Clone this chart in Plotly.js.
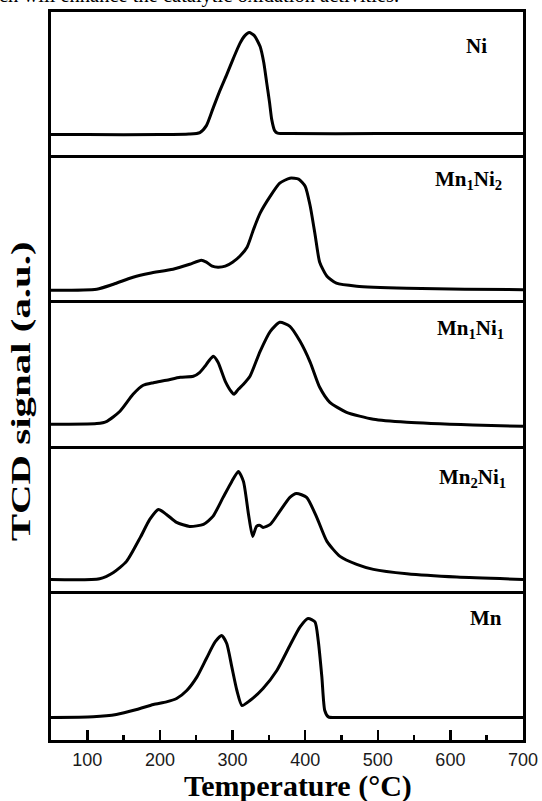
<!DOCTYPE html>
<html>
<head>
<meta charset="utf-8">
<script src="https://cdn.plot.ly/plotly-3.0.1.min.js"></script>
<style>html,body{margin:0;padding:0;background:#fff;}#chart{width:542px;height:801px;}</style>
</head>
<body>
<div id="chart"></div>
<script>
// ---- data (TCD signal in a.u., baseline = 0) ----
const seriesNames = ["Ni", "Mn<sub>1</sub>Ni<sub>2</sub>", "Mn<sub>1</sub>Ni<sub>1</sub>", "Mn<sub>2</sub>Ni<sub>1</sub>", "Mn"];

const niT = [50, 100, 200, 240, 255, 264, 273, 282, 292, 301, 310, 317, 323, 330, 338, 343, 347, 351, 354, 358, 362, 380, 500, 600, 700];
const niS = [0, 0, 0, 0.5, 2, 9, 26, 43, 60, 76, 91, 99, 102, 99, 88, 72, 52, 32, 15, 4, 1.5, 1, 1, 1, 1];

const mn1ni2T = [50, 113, 136, 163, 186, 218, 241, 257, 264, 272, 280, 290, 300, 310, 320, 329, 338, 352, 365, 379, 391, 400, 407, 414, 420, 430, 443, 471, 540, 620, 700];
const mn1ni2S = [0, 1, 6, 13, 17, 21, 26, 30, 28, 24, 23, 24, 28, 34, 43, 61, 77, 94, 107, 112, 111, 104, 84, 54, 28, 14, 7, 4, 2, 1, 0.5];

const mn1ni1T = [50, 113, 127, 145, 163, 177, 191, 209, 228, 246, 255, 262, 267, 273.5, 280, 290, 299, 302, 308, 315, 324, 338, 352, 365, 379, 393, 407, 420, 434, 457, 494, 540, 631, 700];
const mn1ni1S = [0, 0.7, 3, 13, 30, 39, 41.6, 44, 47, 48, 52, 58, 63, 68, 62, 43, 32, 30, 35, 40, 48, 73, 93, 102, 98, 83, 62, 37, 22, 12, 5, 2, -0.7, -2];

const mn2ni1T = [50, 117, 136, 154, 173, 186, 198, 209, 223, 241, 260, 273, 287, 299, 308, 315, 322, 327.7, 333, 338, 342, 352, 365, 379, 388, 402, 416, 430, 448, 471, 494, 540, 609, 700];
const mn2ni1S = [0, 0.7, 7, 18, 42, 60, 70, 65, 57, 53, 55, 63, 82, 98, 108, 98, 65, 43, 53, 54, 52, 55, 68, 82, 86, 82, 62, 38, 23, 15, 10, 5.6, 2.3, 0];

const mnT = [50, 108, 140, 168, 191, 209, 223, 237, 251, 264, 276, 285, 292, 299, 306, 313, 324, 342, 361, 379, 393, 404, 413.5, 418, 423, 427, 432, 450, 700];
const mnS = [0, 0.7, 3, 8, 13, 15.6, 19, 27, 40.6, 59, 75.6, 82, 74, 50.6, 27, 12, 17, 29, 47, 72, 90.6, 99, 95.6, 77, 40.6, 7, 0.6, 0, 0];

const xTickVals = [100, 200, 300, 400, 500, 600, 700];
const xTitle = "Temperature (°C)";
const yTitle = "TCD signal (a.u.)";
const topText = "ch will enhance the catalytic oxidation activities.";

// ---- layout geometry ----
const W = 542, H = 801;
const M = {l: 51, r: 19, t: 12, b: 61};
const plotW = W - M.l - M.r, plotH = H - M.t - M.b;
const pxX = px => (px - M.l) / plotW;
const pxY = py => (H - M.b - py) / plotH;

const xs = [niT, mn1ni2T, mn1ni1T, mn2ni1T, mnT];
const ys = [niS, mn1ni2S, mn1ni1S, mn2ni1S, mnS];
// baseline offset (px above panel bottom) per panel, top to bottom
const baseOff = [23, 13, 24.5, 15, 22.5];
const panelPx = plotH / 5;

const traces = [];
const layout = {
  width: W, height: H,
  margin: M,
  paper_bgcolor: "#ffffff",
  plot_bgcolor: "#ffffff",
  showlegend: false,
  font: {family: "Liberation Serif", color: "#000"},
  annotations: [],
};

for (let i = 0; i < 5; i++) {
  const k = 5 - i; // top panel -> 5, bottom panel -> 1
  const xa = k === 1 ? "x" : "x" + k;
  const ya = k === 1 ? "y" : "y" + k;
  traces.push({
    x: xs[i], y: ys[i], xaxis: xa, yaxis: ya,
    type: "scatter", mode: "lines",
    line: {color: "#000", width: 3, shape: "spline", smoothing: 0.6},
    hoverinfo: "skip"
  });
  const d0 = (k - 1) / 5, d1 = k / 5;
  const xaxKey = k === 1 ? "xaxis" : "xaxis" + k;
  const yaxKey = k === 1 ? "yaxis" : "yaxis" + k;
  const isBottom = k === 1;
  layout[xaxKey] = {
    anchor: ya, domain: [0, 1], range: [50, 700],
    side: isBottom ? "bottom" : "top",
    showline: true, mirror: isBottom, linecolor: "#000", linewidth: 3,
    showgrid: false, zeroline: false,
    showticklabels: isBottom,
    ticks: isBottom ? "inside" : "",
    tickvals: isBottom ? xTickVals : undefined,
    ticklen: 10, tickwidth: 2.5, tickcolor: "#000",
    tickfont: {family: "Liberation Sans", size: 18, color: "#1a1a1a"},
    ticklabelstandoff: 1,
    minor: isBottom ? {ticks: "inside", ticklen: 5, tickwidth: 2.5, tickcolor: "#000", dtick: 50, tick0: 50, showgrid: false} : undefined,
  };
  if (!isBottom) layout[xaxKey].matches = "x";
  layout[yaxKey] = {
    anchor: xa, domain: [d0, d1],
    range: [-baseOff[i], panelPx - baseOff[i]],
    showline: true, mirror: true, linecolor: "#000", linewidth: 3,
    showgrid: false, zeroline: false, showticklabels: false, ticks: "",
    fixedrange: true
  };
}

// panel labels (right-aligned)
const labelRight = [489, 504, 506, 508, 504];
const labelMid = [46, 180, 329, 478, 618];
for (let i = 0; i < 5; i++) {
  layout.annotations.push({
    text: "<b>" + seriesNames[i] + "</b>",
    xref: "paper", yref: "paper",
    x: pxX(labelRight[i]), y: pxY(labelMid[i]),
    xanchor: "right", yanchor: "middle", showarrow: false,
    font: {family: "Liberation Serif", size: 21, color: "#000"}
  });
}
// x axis title
layout.annotations.push({
  text: xTitle,
  xref: "paper", yref: "paper",
  x: pxX(298), y: pxY(786), xanchor: "center", yanchor: "middle",
  showarrow: false,
  font: {family: "Liberation Serif", size: 30, color: "#000", weight: "bold"}
});
// y axis title
layout.annotations.push({
  text: yTitle,
  xref: "paper", yref: "paper",
  x: pxX(21), y: pxY(392), xanchor: "center", yanchor: "middle",
  textangle: -90, showarrow: false,
  font: {family: "Liberation Serif", size: 28, color: "#000", weight: "bold"}
});
// cropped text line at the very top
layout.annotations.push({
  text: topText,
  xref: "paper", yref: "paper",
  x: pxX(-3), y: pxY(9), xanchor: "left", yanchor: "bottom",
  showarrow: false,
  font: {family: "Liberation Serif", size: 20.5, color: "#000"}
});

Plotly.newPlot("chart", traces, layout, {staticPlot: true, displayModeBar: false}).then(gd => {
  // the reference's y-title is drawn elongated along its length
  gd.querySelectorAll(".annotation-text").forEach(t => {
    if (t.textContent === yTitle) {
      t.setAttribute("textLength", "300");
      t.setAttribute("lengthAdjust", "spacingAndGlyphs");
    }
  });
});
</script>
</body>
</html>
